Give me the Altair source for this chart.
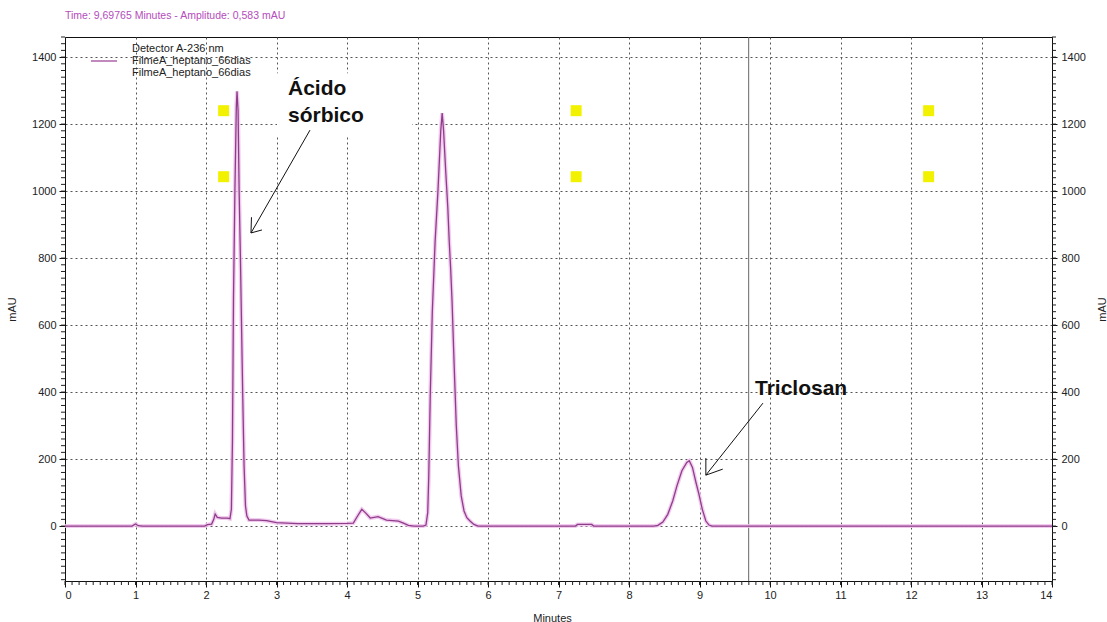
import altair as alt
import pandas as pd
import numpy as np

# Chromatogram trace (retention time in minutes, absorbance in mAU)
time_min = [0.00, 0.95, 1.00, 1.04, 1.10, 1.98, 2.02, 2.08, 2.11, 2.13, 2.16, 2.22, 2.30, 2.34,
            2.36, 2.375, 2.39, 2.41, 2.43, 2.44, 2.455, 2.47, 2.49, 2.50, 2.52, 2.54, 2.56, 2.58,
            2.61, 2.75, 2.86, 3.00, 3.30, 3.70, 4.00, 4.09, 4.15, 4.21, 4.27, 4.33, 4.44, 4.56,
            4.73, 4.80, 4.87, 4.95,
            5.08, 5.12, 5.145, 5.16, 5.18, 5.21, 5.25, 5.29, 5.33, 5.35, 5.37, 5.40, 5.43, 5.45,
            5.47, 5.49, 5.52, 5.55, 5.58, 5.62, 5.66, 5.70, 5.745, 5.80, 5.86,
            7.24, 7.27, 7.47, 7.50,
            8.35, 8.41, 8.48, 8.55, 8.62, 8.68, 8.75, 8.82, 8.855, 8.90, 8.95, 8.99, 9.04, 9.09,
            9.135, 9.18, 14.00]
signal_mau = [0, 0, 6, 1, 0, 0, 4, 6, 20, 36, 26, 24, 24, 22,
              50, 250, 680, 1000, 1250, 1298, 1240, 1000, 780, 650, 400, 180, 60, 30,
              18, 18, 16, 10, 7, 7, 8, 9, 30, 50, 38, 24, 28, 18,
              15, 9, 2, 0,
              0, 3, 40, 150, 380, 640, 850, 1000, 1180, 1233, 1180, 1060, 950, 850,
              770, 672, 480, 300, 180, 90, 45, 25, 15, 5, 0,
              0, 5, 5, 0,
              0, 2, 12, 35, 75, 120, 165, 190, 195, 175, 130, 97, 50, 15,
              3, 0, 0]

# Axis ticks
x_major = list(range(0, 15))
y_major = list(range(0, 1401, 200))
x_minor = [round(v, 1) for v in np.arange(0, 14.01, 0.1)]
y_minor = list(range(-160, 1461, 20))
x_domain = [0, 14]
y_domain = [-164, 1460]

# Cursor and marker squares
cursor_time = 9.69765
marker_x = [2.25, 7.25, 12.25, 2.25, 7.25, 12.25]
marker_y = [1240, 1240, 1240, 1043, 1043, 1043]

# Peak labels
label_text = ["Ácido", "sórbico", "Triclosan"]
label_x = [3.163, 3.163, 9.787]
label_y = [1287, 1206, 391]

# Arrow segments (x, y, x2, y2)
arrow_x = [3.475, 2.638, 2.638, 9.90, 9.09, 9.09]
arrow_y = [1182, 875, 875, 367, 152, 152]
arrow_x2 = [2.638, 2.645, 2.794, 9.09, 9.09, 9.33]
arrow_y2 = [875, 922, 884, 152, 203, 170]

# White box behind the sorbic acid label
box = pd.DataFrame({"x": [3.007], "x2": [4.922], "y": [1167], "y2": [1352]})

trace = pd.DataFrame({"t": time_min, "v": signal_mau})
markers = pd.DataFrame({"t": marker_x, "v": marker_y})
labels = pd.DataFrame({"t": label_x, "v": label_y, "txt": label_text})
arrows = pd.DataFrame({"x": arrow_x, "y": arrow_y, "x2": arrow_x2, "y2": arrow_y2})
minor_x_df = pd.DataFrame({"t": x_minor})
minor_y_df = pd.DataFrame({"v": y_minor})

FONT = "Liberation Sans"
W, H = 987, 544
xs = alt.Scale(domain=x_domain, nice=False, zero=False)
ys = alt.Scale(domain=y_domain, nice=False, zero=False)

grid_axis_x = alt.Axis(values=x_major, grid=True, gridDash=[2, 3], gridColor="#555555",
                       gridWidth=1, tickSize=6, tickColor="#111111", domainColor="#111111",
                       labelPadding=2, labelFontSize=11, title="Minutes", format="d",
                       titleX=487, titleY=40, titleBaseline="alphabetic", titleFontSize=11)
grid_axis_y = alt.Axis(values=y_major, grid=True, gridDash=[2, 3], gridColor="#555555",
                       gridWidth=1, tickSize=6, tickColor="#111111", domainColor="#111111",
                       labelPadding=3, labelFontSize=11, title="mAU", orient="left",
                       format="d", titleX=-53, titleY=272, titleAngle=270,
                       titleBaseline="middle", titleFontSize=11)
right_axis_y = alt.Axis(values=y_major, grid=False, tickSize=5, tickColor="#111111",
                        domainColor="#111111", labelPadding=4, labelFontSize=11,
                        orient="right", format="d", title="mAU", titleX=50, titleY=272,
                        titleAngle=270, titleBaseline="middle", titleFontSize=11)

# Axes and grid carried by invisible point layers
axes_main = alt.Chart(trace).mark_point(opacity=0).encode(
    x=alt.X("t:Q", scale=xs, axis=grid_axis_x),
    y=alt.Y("v:Q", scale=ys, axis=grid_axis_y),
)
axes_right = alt.Chart(trace).mark_point(opacity=0).encode(
    x=alt.X("t:Q", scale=xs, axis=None),
    y=alt.Y("v:Q", scale=ys, axis=right_axis_y),
)

# Minor ticks outside the frame
minor_bottom = alt.Chart(minor_x_df).mark_rule(color="#222222", strokeWidth=1).encode(
    x=alt.X("t:Q", scale=xs, axis=None), y=alt.value(H), y2=alt.value(H + 4),
)
minor_left = alt.Chart(minor_y_df).mark_rule(color="#222222", strokeWidth=1).encode(
    y=alt.Y("v:Q", scale=ys, axis=None), x=alt.value(-4), x2=alt.value(0),
)
minor_right = alt.Chart(minor_y_df).mark_rule(color="#222222", strokeWidth=1).encode(
    y=alt.Y("v:Q", scale=ys, axis=None), x=alt.value(W), x2=alt.value(W + 4),
)

label_box = alt.Chart(box).mark_rect(color="white").encode(
    x=alt.X("x:Q", scale=xs, axis=None), x2="x2:Q",
    y=alt.Y("y:Q", scale=ys, axis=None), y2="y2:Q",
)

cursor = alt.Chart(pd.DataFrame({"t": [cursor_time]})).mark_rule(
    color="#666666", strokeWidth=1
).encode(x=alt.X("t:Q", scale=xs, axis=None))

halo = alt.Chart(trace).mark_line(color="#f0c2ec", strokeWidth=4, opacity=0.85).encode(
    x=alt.X("t:Q", scale=xs, axis=None),
    y=alt.Y("v:Q", scale=ys, axis=None),
    order="t:Q",
)
line = alt.Chart(trace).mark_line(color="#8e3d8a", strokeWidth=1.3).encode(
    x=alt.X("t:Q", scale=xs, axis=None),
    y=alt.Y("v:Q", scale=ys, axis=None),
    order="t:Q",
)

squares = alt.Chart(markers).mark_square(color="#f2f200", size=121, opacity=1).encode(
    x=alt.X("t:Q", scale=xs, axis=None),
    y=alt.Y("v:Q", scale=ys, axis=None),
)

peak_labels = alt.Chart(labels).mark_text(
    font=FONT, fontSize=21, fontWeight="bold", color="#111111",
    align="left", baseline="alphabetic"
).encode(
    x=alt.X("t:Q", scale=xs, axis=None),
    y=alt.Y("v:Q", scale=ys, axis=None),
    text="txt:N",
)

arrow_lines = alt.Chart(arrows).mark_rule(color="#111111", strokeWidth=1).encode(
    x=alt.X("x:Q", scale=xs, axis=None), x2="x2:Q",
    y=alt.Y("y:Q", scale=ys, axis=None), y2="y2:Q",
)

# Detector legend in the top-left corner of the plot
legend_lines = ["Detector A-236 nm", "FilmeA_heptano_66dias", "FilmeA_heptano_66dias"]
legend_rows = [12, 24, 36]
legend_text = alt.Chart(pd.DataFrame({"txt": legend_lines, "row": legend_rows})).mark_text(
    font=FONT, fontSize=11, color="#222222", align="left", baseline="middle"
).encode(
    x=alt.value(67),
    y=alt.Y("row:Q", scale=None, axis=None),
    text="txt:N",
)
legend_swatch = alt.Chart(pd.DataFrame({"a": [0]})).mark_rule(
    color="#a04a9a", strokeWidth=1.3
).encode(x=alt.value(26), x2=alt.value(52), y=alt.value(24))

header = alt.Chart(pd.DataFrame({"txt": ["Time:  9,69765 Minutes - Amplitude:  0,583 mAU"]})).mark_text(
    font=FONT, fontSize=10.5, color="#b44cbc", align="left", baseline="middle"
).encode(x=alt.value(0), y=alt.value(-21), text="txt:N")

chart = alt.layer(
    axes_main, axes_right, minor_bottom, minor_left, minor_right,
    label_box, cursor, halo, line, squares, arrow_lines, peak_labels,
    legend_swatch, legend_text, header,
).resolve_axis(
    x="independent", y="independent"
).properties(
    width=W, height=H,
    padding={"left": 65, "top": 37, "right": 55, "bottom": 41},
    autosize=alt.AutoSizeParams(type="none"),
    background="white",
).configure_view(
    stroke="#111111", strokeWidth=1
).configure_axis(
    labelFont=FONT, titleFont=FONT, labelColor="#222222", titleColor="#222222",
    titleFontWeight="normal",
)

chart.save("out.html", embed_options={"renderer": "svg", "actions": False})
